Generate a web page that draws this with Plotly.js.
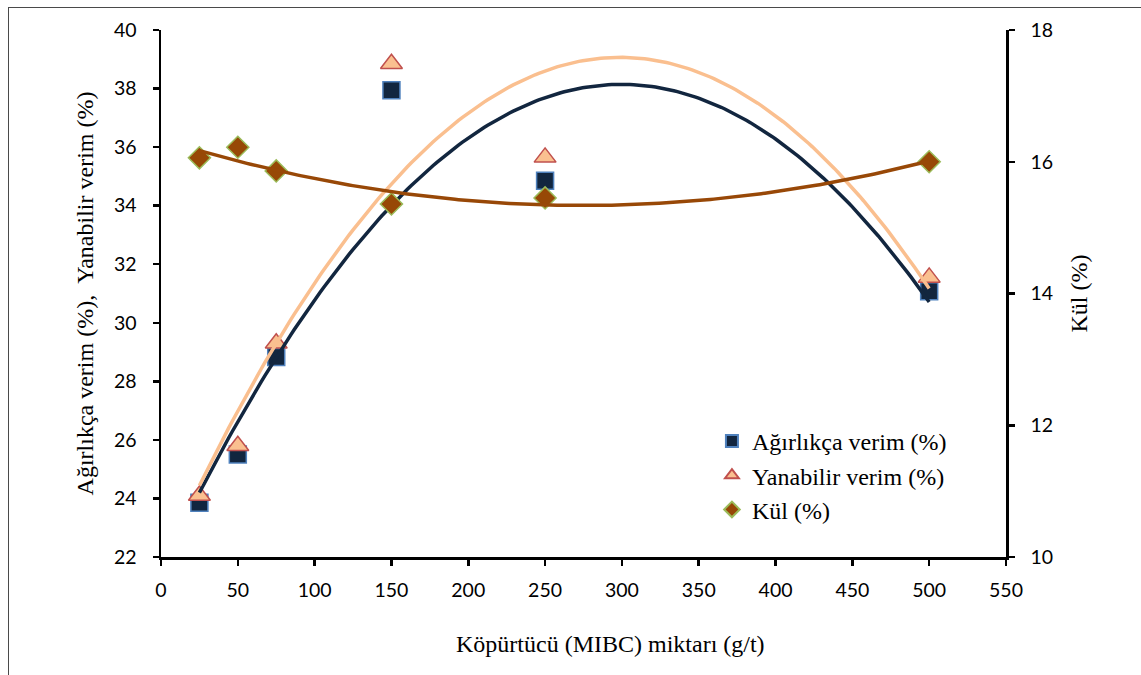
<!DOCTYPE html>
<html>
<head>
<meta charset="utf-8">
<script src="https://cdn.plot.ly/plotly-3.0.1.min.js"></script>
<style>
  html, body { margin: 0; padding: 0; background: #fff; }
  #chart { position: absolute; left: 0; top: 0; width: 1141px; height: 675px; }
  #frame { position: absolute; left: 8px; top: 7px; width: 1140px; height: 675px;
           border-left: 1px solid #4a4a4a; border-top: 1px solid #4a4a4a; pointer-events: none; }
</style>
</head>
<body>
<div id="chart"></div>
<div id="frame"></div>
<script>
// Köpürtücü (MIBC) miktarı (g/t)
const dosage = [25, 50, 75, 150, 250, 500];
// Ağırlıkça verim (%)
const agirlikca = [23.85, 25.5, 28.83, 37.94, 34.85, 31.08];
// Yanabilir verim (%)
const yanabilir = [24.1, 25.8, 29.3, 38.85, 35.65, 31.55];
// Kül (%)
const kul = [16.06, 16.22, 15.86, 15.36, 15.45, 16.0];

const xTicks = [0, 50, 100, 150, 200, 250, 300, 350, 400, 450, 500, 550];
const yTicks = [22, 24, 26, 28, 30, 32, 34, 36, 38, 40];
const y2Ticks = [10, 12, 14, 16, 18];

const xTitle = 'Köpürtücü (MIBC) miktarı (g/t)';
const yTitle = 'Ağırlıkça verim (%),  Yanabilir verim (%)';
const y2Title = 'Kül (%)';

// second-order polynomial trendline (least squares), as in the original chart
function polyfit2(xs, ys) {
  let s = [0, 0, 0, 0, 0], t = [0, 0, 0];
  for (let i = 0; i < xs.length; i++) {
    let p = 1;
    for (let k = 0; k < 5; k++) { s[k] += p; if (k < 3) t[k] += p * ys[i]; p *= xs[i]; }
  }
  const A = [[s[0], s[1], s[2], t[0]], [s[1], s[2], s[3], t[1]], [s[2], s[3], s[4], t[2]]];
  for (let c = 0; c < 3; c++) {
    for (let r = c + 1; r < 3; r++) {
      const f = A[r][c] / A[c][c];
      for (let k = c; k < 4; k++) A[r][k] -= f * A[c][k];
    }
  }
  const b = [0, 0, 0];
  for (let r = 2; r >= 0; r--) {
    let v = A[r][3];
    for (let k = r + 1; k < 3; k++) v -= A[r][k] * b[k];
    b[r] = v / A[r][r];
  }
  return b;
}
function trend(xs, ys) {
  const b = polyfit2(xs, ys);
  const x0 = Math.min(...xs), x1 = Math.max(...xs);
  const tx = [], ty = [];
  for (let i = 0; i <= 200; i++) {
    const x = x0 + (x1 - x0) * i / 200;
    tx.push(x); ty.push(b[0] + b[1] * x + b[2] * x * x);
  }
  return { x: tx, y: ty };
}

const tA = trend(dosage, agirlikca);
const tY = trend(dosage, yanabilir);
const tK = trend(dosage, kul);

const serif = '"Liberation Serif", "Times New Roman", serif';
const sans = 'Lato, "Liberation Sans", sans-serif';

const traces = [
  { x: dosage, y: agirlikca, type: 'scatter', mode: 'markers', name: 'Ağırlıkça verim (%)',
    marker: { symbol: 'square', size: 17, color: '#12263f', line: { color: '#4f81bd', width: 1.5 } } },
  { x: dosage, y: yanabilir, type: 'scatter', mode: 'markers', name: 'Yanabilir verim (%)',
    marker: { symbol: 'triangle-up', size: 19, color: '#fac090', line: { color: '#c0504d', width: 1.5 } } },
  { x: tA.x, y: tA.y, type: 'scatter', mode: 'lines', showlegend: false, hoverinfo: 'skip',
    line: { color: '#12263f', width: 3.5 } },
  { x: tY.x, y: tY.y, type: 'scatter', mode: 'lines', showlegend: false, hoverinfo: 'skip',
    line: { color: '#fabf8f', width: 3.5 } },
  { x: dosage, y: kul, type: 'scatter', mode: 'markers', name: 'Kül (%)', yaxis: 'y2',
    marker: { symbol: 'diamond', size: 17, color: '#974806', line: { color: '#9bbb59', width: 1.5 } } },
  { x: tK.x, y: tK.y, type: 'scatter', mode: 'lines', showlegend: false, hoverinfo: 'skip', yaxis: 'y2',
    line: { color: '#984807', width: 3.5 } }
];

const layout = {
  width: 1141, height: 675,
  margin: { l: 161, r: 135, t: 30, b: 118 },
  paper_bgcolor: 'rgba(0,0,0,0)', plot_bgcolor: 'rgba(0,0,0,0)',
  showlegend: true,
  legend: {
    x: 0.652, y: 0.262, xanchor: 'left', yanchor: 'top',
    bgcolor: 'rgba(0,0,0,0)', itemsizing: 'constant',
    font: { family: serif, size: 24, color: '#000' }
  },
  xaxis: {
    range: [0, 550], tickvals: xTicks, ticktext: xTicks.map(String),
    showline: true, linecolor: '#000', linewidth: 2.5, mirror: false,
    ticks: 'outside', ticklen: 6, tickwidth: 2.5, tickcolor: '#000',
    showgrid: false, zeroline: false, ticklabelstandoff: 8,
    tickfont: { family: sans, size: 19.5, color: '#000' }
  },
  yaxis: {
    range: [22, 40], tickvals: yTicks, ticktext: yTicks.map(String),
    showline: true, linecolor: '#000', linewidth: 2.5,
    ticks: 'outside', ticklen: 6, tickwidth: 2.5, tickcolor: '#000',
    showgrid: false, zeroline: false, ticklabelstandoff: 12,
    tickfont: { family: sans, size: 19.5, color: '#000' },
    title: { text: yTitle, font: { family: serif, size: 24, color: '#000' }, standoff: 14 }
  },
  yaxis2: {
    range: [10, 18], tickvals: y2Ticks, ticktext: y2Ticks.map(String),
    overlaying: 'y', side: 'right',
    showline: true, linecolor: '#000', linewidth: 2.5,
    ticks: 'outside', ticklen: 6, tickwidth: 2.5, tickcolor: '#000',
    showgrid: false, zeroline: false, ticklabelstandoff: 12,
    tickfont: { family: sans, size: 19.5, color: '#000' },
    title: { text: y2Title, font: { family: serif, size: 24, color: '#000' }, standoff: 18 }
  },
  annotations: [
    { text: xTitle, xref: 'paper', yref: 'paper', x: 0.532, y: -0.166,
      xanchor: 'center', yanchor: 'middle', showarrow: false,
      font: { family: serif, size: 24, color: '#000' } }
  ]
};

Plotly.newPlot('chart', traces, layout, { displayModeBar: false, staticPlot: true });
</script>
</body>
</html>
